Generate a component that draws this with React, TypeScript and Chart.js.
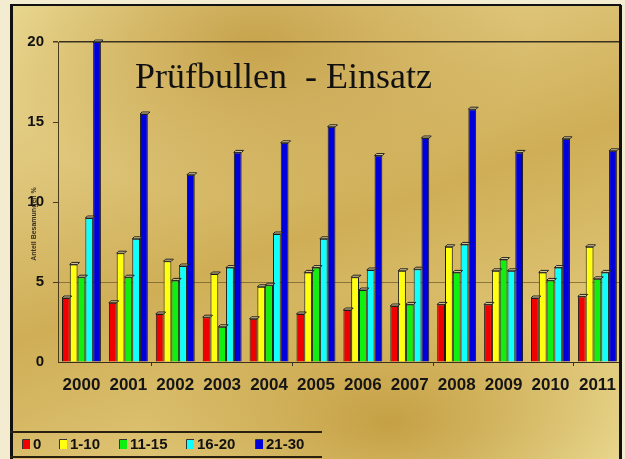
import React, { useEffect, useRef } from "react";
import { Chart, registerables } from "chart.js";

Chart.register(...registerables);

const years = ["2000", "2001", "2002", "2003", "2004", "2005", "2006", "2007", "2008", "2009", "2010", "2011"];
const series0 = [4.0, 3.7, 3.0, 2.8, 2.7, 3.0, 3.25, 3.5, 3.6, 3.6, 4.0, 4.1];
const series1to10 = [6.1, 6.8, 6.3, 5.5, 4.7, 5.6, 5.3, 5.7, 7.2, 5.7, 5.6, 7.2];
const series11to15 = [5.3, 5.3, 5.1, 2.2, 4.8, 5.9, 4.5, 3.6, 5.6, 6.4, 5.1, 5.2];
const series16to20 = [9.0, 7.7, 6.0, 5.9, 8.0, 7.7, 5.75, 5.8, 7.35, 5.7, 5.9, 5.6];
const series21to30 = [20, 15.5, 11.7, 13.1, 13.7, 14.7, 12.9, 14.0, 15.8, 13.1, 13.95, 13.2];
const seriesLabels = ["0", "1-10", "11-15", "16-20", "21-30"];
const seriesColors = ["#f00000", "#ffff10", "#10f010", "#10ffff", "#0000dc"];
const yMin = 0;
const yMax = 20;
const yStep = 5;
const chartTitle = "Prüfbullen  - Einsatz";
const yAxisTitle = "Anteil Besamungen %";

const SANS = "'Liberation Sans', Arial, sans-serif";

const decorPlugin = {
  id: "decor",
  afterDatasetsDraw(chart: any) {
    const ctx = chart.ctx;
    chart.data.datasets.forEach((_ds: any, di: number) => {
      const meta = chart.getDatasetMeta(di);
      meta.data.forEach((bar: any) => {
        const w = bar.width;
        const x0 = bar.x - w / 2;
        const y0 = bar.y;
        ctx.save();
        ctx.fillStyle = "rgba(255,255,255,0.35)";
        ctx.strokeStyle = "#222";
        ctx.lineWidth = 1;
        ctx.beginPath();
        ctx.moveTo(x0, y0);
        ctx.lineTo(x0 + 2, y0 - 2);
        ctx.lineTo(x0 + w + 2, y0 - 2);
        ctx.lineTo(x0 + w, y0);
        ctx.closePath();
        ctx.fill();
        ctx.stroke();
        ctx.restore();
      });
    });
  },
  afterDraw(chart: any) {
    const ctx = chart.ctx;
    ctx.save();
    // chart title
    ctx.fillStyle = "#111";
    ctx.font = "36px 'Liberation Serif', 'Times New Roman', serif";
    ctx.textBaseline = "alphabetic";
    ctx.textAlign = "left";
    ctx.fillText(chartTitle, 135, 88);
    // y axis title
    ctx.save();
    ctx.translate(34, 224);
    ctx.rotate(-Math.PI / 2);
    ctx.font = "bold 7px " + SANS;
    ctx.fillStyle = "#3a3020";
    ctx.textAlign = "center";
    ctx.textBaseline = "middle";
    ctx.fillText(yAxisTitle, 0, 0);
    ctx.restore();
    // frame
    ctx.strokeStyle = "#111";
    ctx.lineWidth = 2;
    ctx.beginPath();
    ctx.moveTo(10, 5);
    ctx.lineTo(621, 5);
    ctx.stroke();
    ctx.lineWidth = 3;
    ctx.beginPath();
    ctx.moveTo(11.5, 5);
    ctx.lineTo(11.5, 459);
    ctx.moveTo(620.5, 5);
    ctx.lineTo(620.5, 459);
    ctx.stroke();
    // legend lines
    ctx.strokeStyle = "#2a2010";
    ctx.lineWidth = 2;
    ctx.beginPath();
    ctx.moveTo(10, 432);
    ctx.lineTo(322, 432);
    ctx.moveTo(10, 457);
    ctx.lineTo(322, 457);
    ctx.stroke();
    // legend items
    const boxX = [23, 60, 120, 187, 256];
    ctx.font = "bold 15px " + SANS;
    ctx.textBaseline = "middle";
    ctx.textAlign = "left";
    seriesLabels.forEach((lab, i) => {
      ctx.fillStyle = seriesColors[i];
      ctx.fillRect(boxX[i], 440, 7, 9);
      ctx.strokeStyle = "#333";
      ctx.lineWidth = 1;
      ctx.beginPath();
      ctx.moveTo(boxX[i] - 0.5, 449);
      ctx.lineTo(boxX[i] - 0.5, 439.5);
      ctx.lineTo(boxX[i] + 7, 439.5);
      ctx.stroke();
      ctx.fillStyle = "#111";
      ctx.fillText(lab, boxX[i] + 10, 445);
    });
    ctx.restore();
  },
};

export default function App() {
  const canvasRef = useRef<HTMLCanvasElement | null>(null);

  useEffect(() => {
    document.body.style.margin = "0";
    const canvas = canvasRef.current;
    if (!canvas) return;
    const seriesData = [series0, series1to10, series11to15, series16to20, series21to30];
    const chart = new Chart(canvas, {
      type: "bar",
      data: {
        labels: years,
        datasets: seriesData.map((d, i) => ({
          label: seriesLabels[i],
          data: d,
          backgroundColor: seriesColors[i],
          borderColor: "#1a1a1a",
          borderWidth: 1,
          categoryPercentage: 0.83,
          barPercentage: 1.0,
        })),
      },
      options: {
        responsive: false,
        animation: false,
        layout: { padding: { left: 0, top: 42, right: 4, bottom: 0 } },
        plugins: {
          legend: { display: false },
          title: { display: false },
          tooltip: { enabled: false },
        },
        scales: {
          x: {
            grid: {
              display: true,
              drawOnChartArea: false,
              drawTicks: true,
              tickLength: 4,
              color: "rgba(0,0,0,0)",
              tickColor: (c: any) => (c.index % 3 === 2 ? "#3a3020" : "rgba(0,0,0,0)"),
            },
            border: { display: true, color: "#3a3020", width: 1 },
            ticks: {
              color: "#151515",
              font: { family: SANS, size: 17, weight: "bold" },
              padding: 9,
              maxRotation: 0,
              autoSkip: false,
            },
            afterFit: (s: any) => {
              s.height = 97;
            },
          },
          y: {
            min: yMin,
            max: yMax,
            ticks: {
              stepSize: yStep,
              color: "#111",
              font: { family: SANS, size: 15, weight: "bold" },
              padding: 9,
            },
            grid: {
              color: (c: any) =>
                c.tick && c.tick.value === 5
                  ? "rgba(120,100,50,0.8)"
                  : c.tick && c.tick.value === 20
                  ? "#3a3020"
                  : "rgba(0,0,0,0)",
              tickColor: (c: any) => (c.tick && c.tick.value === 0 ? "rgba(0,0,0,0)" : "#4a3a20"),
              tickLength: 5,
              lineWidth: (c: any) => (c.tick && c.tick.value === 20 ? 1.5 : 1),
            },
            border: { display: true, color: "#4a3a20", width: 1 },
            afterFit: (s: any) => {
              s.width = 58;
            },
          },
        },
      },
      plugins: [decorPlugin],
    } as any);
    return () => chart.destroy();
  }, []);

  return (
    <div
      style={{
        position: "relative",
        width: 625,
        height: 459,
        background: "#f3ecd0",
        overflow: "hidden",
      }}
    >
      <div
        style={{
          position: "absolute",
          left: 10,
          top: 5,
          width: 612,
          height: 454,
          background:
            "radial-gradient(ellipse 45% 35% at 40% 8%, rgba(190,150,60,0.75), rgba(190,150,60,0) 100%), radial-gradient(ellipse 40% 30% at 62% 92%, rgba(190,150,55,0.8), rgba(190,150,55,0) 100%), linear-gradient(160deg, #ecdc96 0%, #dcc275 30%, #cfae56 50%, #dcc170 72%, #e9d88f 100%)",
        }}
      />
      <canvas ref={canvasRef} width={625} height={459} style={{ position: "absolute", left: 0, top: 0, display: "block" }} />
    </div>
  );
}
